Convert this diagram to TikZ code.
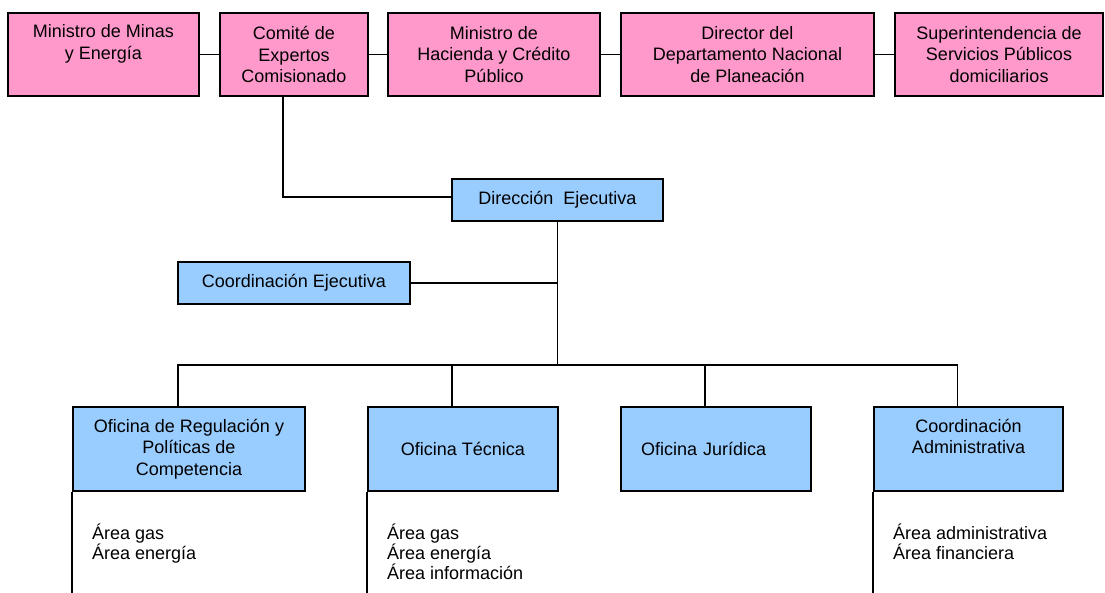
\documentclass[tikz,border=0pt]{standalone}
\usepackage{fontspec}
\setmainfont{Liberation Sans}
\usepackage{xcolor}
\usepackage{tikz}
\usetikzlibrary{positioning}
\usetikzlibrary{calc}

\definecolor{rosa}{RGB}{255,153,204}
\definecolor{celeste}{RGB}{153,204,255}

\tikzset{
  caja/.style={draw, line width=1.8pt, align=center, inner sep=2pt,
    font=\fontsize{18}{21.5}\selectfont},
  cajarosa/.style={caja, fill=rosa, minimum height=83},
  cajaazul/.style={caja, fill=celeste},
  arriba/.style={text depth=25.5pt},
  linea/.style={line width=1.4pt},
  lista/.style={anchor=north west, align=left, inner sep=0pt,
    font=\fontsize{18}{20}\selectfont}
}

\begin{document}
\begin{tikzpicture}[x=1pt,y=-1pt]
\useasboundingbox (0,0) rectangle (1105,593);

\node[cajarosa, arriba, minimum width=191] (minas) at (103.5,54.5) {Ministro de Minas\\y Energía};
\node[cajarosa, minimum width=148] (comite) at (294,54.5) {Comité de\\Expertos\\Comisionado};
\node[cajarosa, minimum width=212] (hacienda) at (494,54.5) {Ministro de\\Hacienda y Crédito\\Público};
\node[cajarosa, minimum width=253] (planeacion) at (747.5,54.5) {Director del\\Departamento Nacional\\de Planeación};
\node[cajarosa, minimum width=208] (superserv) at (999,54.5) {Superintendencia de\\Servicios Públicos\\domiciliarios};

\draw[linea] (minas) -- (comite);
\draw[linea] (comite) -- (hacienda);
\draw[linea] (hacienda) -- (planeacion);
\draw[linea] (planeacion) -- (superserv);

\node[cajaazul, minimum width=211, minimum height=42] (direccion) at (557.5,200) {Dirección\ \ Ejecutiva};
\node[cajaazul, minimum width=232, minimum height=42] (coordej) at (294,283) {Coordinación Ejecutiva};

\coordinate (codo) at (283,197);
\coordinate (bus) at (558,365);
\coordinate (suelo) at (0,593);

\draw[linea] (comite.south -| codo) -- (codo) -- (direccion.west |- codo);
\draw[linea] (direccion.south) -- (direccion.south |- bus);
\draw[linea] (coordej.east) -- (coordej.east -| bus);

\node[cajaazul, minimum width=232, minimum height=84] (regulacion) at (189,449) {Oficina de Regulación y\\Políticas de\\Competencia};
\node[cajaazul, minimum width=190, minimum height=84] (tecnica) at (463,449) {Oficina Técnica};
\node[cajaazul, minimum width=190, minimum height=84, text width=150, align=left] (juridica) at (716,449) {Oficina Jurídica};
\node[cajaazul, arriba, minimum width=189, minimum height=84] (admin) at (968.5,449) {Coordinación\\Administrativa};

\draw[linea] (regulacion.north) ++(-11,0) |- (bus);
\draw[linea] (tecnica.north) ++(-11,0) |- (bus);
\draw[linea] (juridica.north) ++(-11,0) |- (bus);
\draw[linea] (admin.north) ++(-11,0) |- (bus);

\draw[linea] (regulacion.south west) -- (regulacion.south west |- suelo);
\draw[linea] (tecnica.south west) -- (tecnica.south west |- suelo);
\draw[linea] (admin.south west) -- (admin.south west |- suelo);

\node[lista] (regareas) at (92,524) {Área gas\\Área energía};
\node[lista] (tecareas) at (387,524) {Área gas\\Área energía\\Área información};
\node[lista] (admareas) at (893,524) {Área administrativa\\Área financiera};
\end{tikzpicture}
\end{document}
